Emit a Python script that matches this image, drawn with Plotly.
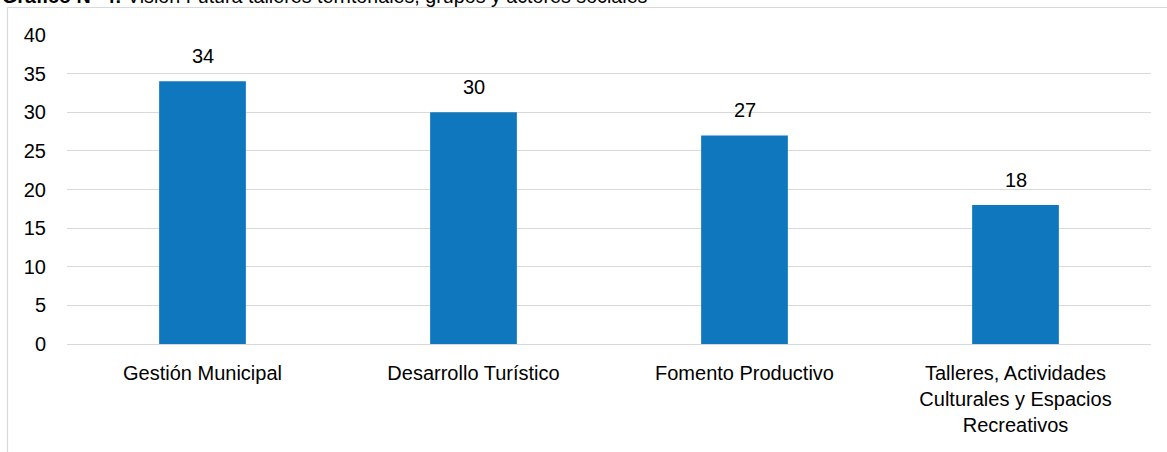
import plotly.graph_objects as go

categories = ["Gestión Municipal", "Desarrollo Turístico", "Fomento Productivo",
              "Talleres, Actividades<br>Culturales y Espacios<br>Recreativos"]
values = [34, 30, 27, 18]
y_ticks = [0, 5, 10, 15, 20, 25, 30, 35, 40]

FONT = "Liberation Sans, Arial, sans-serif"
BAR = "#0F77BD"

fig = go.Figure()
fig.add_trace(go.Bar(x=categories, y=values, marker=dict(color=BAR, line=dict(width=0)),
                     hoverinfo="skip"))

for c, v in zip(categories, values):
    fig.add_annotation(x=c, y=v, text=str(v), showarrow=False, yanchor="bottom",
                       yshift=12, font=dict(family=FONT, size=20, color="#000000"))

# clipped title at the very top
fig.add_annotation(xref="paper", yref="paper", x=-0.062, y=1 + 39 / 309, xanchor="left",
                   yanchor="middle", showarrow=False,
                   text="<b>Gráfico N° 4:</b> Visión Futura talleres territoriales, grupos y actores sociales",
                   font=dict(family=FONT, size=19.7, color="#000000"))

# chart frame
fig.add_shape(type="rect", xref="paper", yref="paper",
              x0=(7.5 - 67) / 1084, x1=(1175 - 67) / 1084,
              y0=-0.5, y1=(344 - 7.5) / 309,
              line=dict(color="#D9D9D9", width=1.2), fillcolor="rgba(0,0,0,0)", layer="below")

fig.update_layout(
    width=1167, height=452,
    margin=dict(l=67, r=16, t=35, b=108),
    paper_bgcolor="white", plot_bgcolor="white",
    bargap=0.68, showlegend=False,
    font=dict(family=FONT, size=20, color="#000000"),
    xaxis=dict(showgrid=False, showline=False, ticks="", tickfont=dict(size=20, family=FONT),
               ticklabelstandoff=15, fixedrange=True),
    yaxis=dict(range=[0, 40], tickvals=y_ticks, showgrid=True, gridcolor="#D9D9D9", gridwidth=1.3,
               zeroline=True, zerolinecolor="#D9D9D9", zerolinewidth=1.3, showline=False,
               ticks="", ticklabelstandoff=20, tickfont=dict(size=20, family=FONT), fixedrange=True),
)

fig.write_html("out.html", config={"displayModeBar": False},
               post_script="document.body.style.margin='0';")
